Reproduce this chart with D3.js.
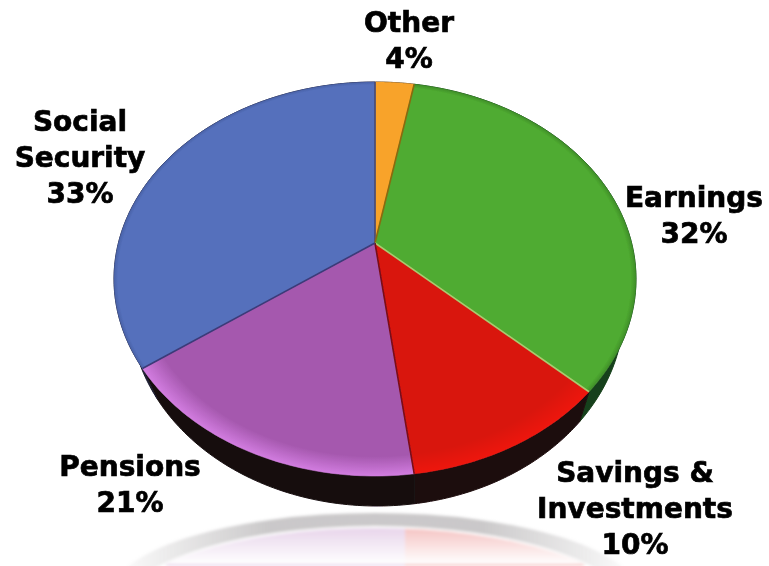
<!DOCTYPE html>
<html>
<head>
<meta charset="utf-8">
<title>Income sources</title>
<style>
 body{margin:0;background:#fff;}
 text{font-family:'DejaVu Sans';font-weight:700;font-size:28px;fill:#000;stroke:#000;stroke-width:0.7px;text-anchor:middle;}
</style>
<script src="https://cdnjs.cloudflare.com/ajax/libs/d3/7.8.5/d3.min.js"></script>
</head>
<body>
<div id="plot"></div>
<script>
var categories = ["Other", "Earnings", "Savings & Investments", "Pensions", "Social Security"];
var percentLabels = [4, 32, 10, 21, 33];
// share of the rim each wedge takes in the picture (the drawing is not true to its labels)
var drawnShares = [2.4, 32.3, 12.9, 19.9, 32.5];
var colors = ["#f8a32c", "#4fab30", "#d9140f", "#a558ae", "#5470bc"];
var rimColors = ["#f8a32c", "#3f8f2a", "#ee1410", "#d27ce0", "#4a62a8"];
var rimStart = [0.9, 0.98, 0.9, 0.9, 0.985];
var wallColors = ["#222222", "#14401a", "#1e0a0c", "#150c10", "#1c1c30"];
var edgeColors = ["#4a4a70", "#8a6a10", "#a8cc70", "#7a0a14", "#3c3a78"];
var labelLines = [["Other", "4%"], ["Earnings", "32%"], ["Savings &", "Investments", "10%"], ["Pensions", "21%"], ["Social", "Security", "33%"]];
var labelX = [409, 694, 635, 130, 80];
var labelY = [32, 207, 482, 476, 131];

var w = 769, h = 566;
var cx = 375, cy = 279, rx = 261, ry = 197;
var apex = [375, 243];

var vis = d3.select("#plot").append("svg").attr("width", w).attr("height", h).style("display", "block");
var defs = vis.append("defs");

var soft = defs.append("filter").attr("id", "soft");
soft.append("feGaussianBlur").attr("stdDeviation", 0.5);
var softer = defs.append("filter").attr("id", "softer").attr("x", "-10%").attr("y", "-10%").attr("width", "120%").attr("height", "120%");
softer.append("feGaussianBlur").attr("stdDeviation", 1.5);

var pie = d3.pie().sort(null).value(function(d) { return d; });
var arcs = pie(drawnShares);

function rim(a, ox, oy, sx, sy) {
  return [ox + sx * Math.sin(a), oy - sy * Math.cos(a)];
}
var line = d3.line();
function wedge(d) {
  var pts = d3.range(0, 61).map(function(i) {
    return rim(d.startAngle + (d.endAngle - d.startAngle) * i / 60, cx, cy, rx, ry);
  });
  return line([apex].concat(pts)) + "Z";
}
function wall(d) {
  var upper = [], lower = [];
  d3.range(0, 61).forEach(function(i) {
    var a = d.startAngle + (d.endAngle - d.startAngle) * i / 60;
    upper.push(rim(a, cx, cy, rx, ry));
    lower.push(rim(a, 377, 309, 247, 197));
  });
  return line(upper.concat(lower.reverse())) + "Z";
}

// reflection under the pie
var band = defs.append("linearGradient").attr("id", "band");
[[0, 0], [0.3, 0.8], [0.7, 0.8], [1, 0]].forEach(function(s) {
  band.append("stop").attr("offset", s[0]).attr("stop-color", "#bdbbbc").attr("stop-opacity", s[1]);
});
var fade = defs.append("linearGradient").attr("id", "fade").attr("x1", 0).attr("y1", 0).attr("x2", 0).attr("y2", 1);
fade.append("stop").attr("offset", 0).attr("stop-color", "#fff").attr("stop-opacity", 0);
fade.append("stop").attr("offset", 1).attr("stop-color", "#fff").attr("stop-opacity", 1);
defs.append("clipPath").attr("id", "inner").append("ellipse")
  .attr("cx", cx).attr("cy", 610).attr("rx", 250).attr("ry", 82);
var mirror = vis.append("g").attr("filter", "url(#softer)");
mirror.append("ellipse").attr("cx", cx).attr("cy", 597).attr("rx", 265).attr("ry", 84).attr("fill", "url(#band)");
mirror.append("ellipse").attr("cx", cx).attr("cy", 612).attr("rx", 255).attr("ry", 86).attr("fill", "#fff");
var tint = mirror.append("g").attr("clip-path", "url(#inner)");
tint.append("rect").attr("x", 100).attr("y", 520).attr("width", 305).attr("height", 46).attr("fill", colors[3]).attr("opacity", 0.25);
tint.append("rect").attr("x", 405).attr("y", 520).attr("width", 190).attr("height", 46).attr("fill", colors[2]).attr("opacity", 0.25);
tint.append("rect").attr("x", 100).attr("y", 528).attr("width", 540).attr("height", 36).attr("fill", "url(#fade)");

// side wall
vis.append("g").selectAll("path").data(arcs).enter().append("path")
  .attr("d", wall)
  .attr("fill", function(d, i) { return wallColors[i]; })
  .attr("stroke", function(d, i) { return wallColors[i]; })
  .attr("filter", "url(#soft)");

// wedge shading, lighter or darker toward the rim
arcs.forEach(function(d, i) {
  var g = defs.append("radialGradient").attr("id", "slice" + i)
    .attr("gradientUnits", "userSpaceOnUse")
    .attr("cx", 0).attr("cy", 0).attr("r", 1)
    .attr("gradientTransform", "translate(" + cx + "," + cy + ") scale(" + rx + "," + ry + ")");
  g.append("stop").attr("offset", rimStart[i]).attr("stop-color", colors[i]);
  g.append("stop").attr("offset", 1).attr("stop-color", rimColors[i]);
});
var face = vis.append("g").attr("filter", "url(#soft)");
face.selectAll("path").data(arcs).enter().append("path")
  .attr("d", wedge)
  .attr("fill", function(d, i) { return "url(#slice" + i + ")"; })
  .attr("stroke", function(d, i) { return "url(#slice" + i + ")"; })
  .attr("stroke-width", 0.6);
// divider along the leading edge of each wedge
face.selectAll("line").data(arcs).enter().append("line")
  .attr("x1", apex[0]).attr("y1", apex[1])
  .attr("x2", function(d) { return rim(d.startAngle, cx, cy, rx, ry)[0]; })
  .attr("y2", function(d) { return rim(d.startAngle, cx, cy, rx, ry)[1]; })
  .attr("stroke", function(d, i) { return edgeColors[i]; })
  .attr("stroke-width", 1.6);

var labels = vis.append("g").attr("filter", "url(#soft)").selectAll("text").data(labelLines).enter().append("text")
  .attr("x", function(d, i) { return labelX[i]; })
  .attr("y", function(d, i) { return labelY[i]; });
labels.selectAll("tspan").data(function(d) { return d; }).enter().append("tspan")
  .attr("x", function() { return d3.select(this.parentNode).attr("x"); })
  .attr("dy", function(d, i) { return i ? 36 : 0; })
  .text(function(d) { return d; });
</script>
</body>
</html>
